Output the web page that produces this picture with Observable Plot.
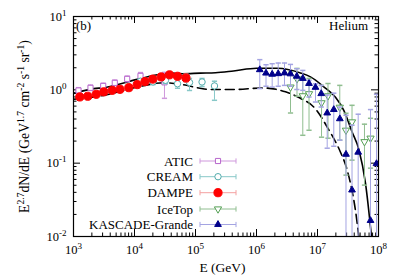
<!DOCTYPE html>
<html><head><meta charset="utf-8">
<script src="https://cdn.jsdelivr.net/npm/d3@7"></script>
<script src="https://cdn.jsdelivr.net/npm/@observablehq/plot@0.6"></script>
<style>body{margin:0;background:#fff}#chart{width:399px;height:279px}</style>
</head><body><div id="chart"></div>
<script>
// ---- tick values & labels
const xTicks = [1e3, 1e4, 1e5, 1e6, 1e7, 1e8];
const xTickLabels = ["10^{3}", "10^{4}", "10^{5}", "10^{6}", "10^{7}", "10^{8}"];
const yTicks = [1e-2, 1e-1, 1e0, 1e1];
const yTickLabels = ["10^{-2}", "10^{-1}", "10^{0}", "10^{1}"];
const xLabel = "E (GeV)";
const yLabel = "E^{2.7}dN/dE (GeV^{1.7} cm^{-2} s^{-1} sr^{-1})";
const panelTag = "(b)";
const elementName = "Helium";
const legendNames = ["ATIC", "CREAM", "DAMPE", "IceTop", "KASCADE-Grande"];

// ---- ATIC
const aticE  = [1208, 1900, 3070, 4750, 7590, 12540, 31000];
const aticF  = [0.98, 1.065, 1.13, 1.245, 1.41, 1.55, 1.265];
const aticLo = [0.90, 0.98, 1.04, 1.14, 1.29, 1.40, 0.766];
const aticHi = [1.07, 1.16, 1.23, 1.36, 1.54, 1.72, 1.73];
// ---- CREAM
const creamE  = [12540, 20100, 32200, 50700, 79800, 128000, 204700];
const creamF  = [1.31, 1.28, 1.35, 1.21, 1.26, 1.28, 1.13];
const creamLo = [1.22, 1.18, 1.22, 1.05, 0.98, 1.11, 0.72];
const creamHi = [1.41, 1.39, 1.49, 1.43, 1.43, 1.43, 1.31];
// ---- DAMPE
const dampeE  = [1268, 1714, 2355, 3141, 4305, 5781, 8070, 11070, 14860, 19950, 27400, 37500, 50700, 69800];
const dampeF  = [0.80, 0.817, 0.869, 0.94, 0.984, 1.016, 1.07, 1.178, 1.294, 1.40, 1.50, 1.60, 1.53, 1.45];
const dampeLo = [0.76, 0.775, 0.82, 0.89, 0.93, 0.955, 1.0, 1.10, 1.20, 1.29, 1.37, 1.45, 1.37, 1.28];
const dampeHi = [0.84, 0.86, 0.92, 0.99, 1.04, 1.08, 1.14, 1.26, 1.39, 1.52, 1.64, 1.77, 1.71, 1.64];
// ---- IceTop
const icetopE  = [3.61e6, 4.61e6, 5.74e6, 7.26e6, 1.164e7, 1.486e7, 2.32e7, 2.93e7, 3.68e7, 5.89e7, 7.40e7];
const icetopF  = [1.09, 1.41, 0.828, 0.883, 0.665, 0.828, 0.578, 0.281, 0.365, 0.196, 0.219];
const icetopLo = [0.483, 0.817, 0.240, 0.281, 0.226, 0.219, 0.206, 0.0687, 0.110, 0.0502, 0.0855];
const icetopHi = [1.75, 1.96, 1.48, 1.43, 1.15, 1.22, 1.15, 0.479, 0.615, 0.340, 0.409];
// ---- KASCADE-Grande
const kgE  = [1.132e6, 1.432e6, 1.807e6, 2.270e6, 2.877e6, 3.606e6, 4.581e6, 5.741e6, 7.261e6, 9.268e6, 1.151e7, 1.442e7, 1.849e7, 2.323e7, 2.931e7, 3.681e7, 4.645e7, 7.396e7, 9.268e7];
const kgF  = [1.88, 1.69, 1.63, 1.66, 1.70, 1.65, 1.53, 1.43, 1.22, 1.08, 0.887, 0.483, 0.538, 0.403, 0.132, 0.043, 0.141, 0.0165, 0.0984];
const kgLo = [1.04, 1.12, 1.09, 1.12, 1.15, 1.12, 1.01, 0.984, 0.798, 0.682, 0.583, 0.16, 0.17, 0.206, 0.001, 0.001, 0.001, 0.001, 0.001];
const kgHi = [2.58, 2.20, 2.27, 2.32, 2.32, 2.22, 1.94, 1.84, 1.35, 1.21, 1.15, 0.85, 0.90, 0.583, 0.45, 0.329, 0.465, 0.538, 0.869];
// ---- model curves
const solidE = [1000, 2153, 3141, 11070, 26670, 38900, 60530, 120800, 212800, 419800, 1.0e6, 2.208e6, 5.26e6, 7.674e6, 1.268e7, 1.972e7, 2.698e7, 3.707e7, 4.753e7, 6.124e7, 7.674e7];
const solidF = [0.895, 1.04, 1.07, 1.39, 1.63, 1.69, 1.66, 1.69, 1.71, 1.81, 1.97, 1.97, 1.70, 1.50, 1.10, 0.791, 0.526, 0.264, 0.155, 0.053, 0.0099];
const dashE = [1000, 3141, 11070, 30200, 60530, 113200, 176200, 419800, 1.253e6, 2.985e6, 5.07e6, 8.928e6, 1.514e7, 2.382e7, 3.069e7, 4.477e7, 4.753e7];
const dashF = [0.743, 0.841, 1.09, 1.25, 1.18, 1.06, 1.01, 1.01, 1.06, 0.94, 0.778, 0.569, 0.290, 0.141, 0.0803, 0.0151, 0.0099];

const rows = (E, F, lo, hi) => E.map((e, i) => ({E: e, F: F[i], lo: lo[i], hi: hi[i]}));
const line = (E, F) => E.map((e, i) => ({E: e, F: F[i]}));

const capSym = {draw(ctx, size) { const w = Math.sqrt(size / Math.PI); ctx.moveTo(-w, 0); ctx.lineTo(w, 0); }};
const triDown = {draw(ctx, size) {
  const y = -Math.sqrt(size / (3 * Math.sqrt(3))), s = Math.sqrt(3);
  ctx.moveTo(0, -2 * y); ctx.lineTo(-s * y, y); ctx.lineTo(s * y, y); ctx.closePath(); }};

const series = [
  {name: legendNames[0], data: rows(aticE, aticF, aticLo, aticHi), bar: "#cf98dc", col: "#b766cc", sym: "square", r: 2.9, filled: false},
  {name: legendNames[1], data: rows(creamE, creamF, creamLo, creamHi), bar: "#88c8c8", col: "#52acac", sym: "circle", r: 3.2, filled: false},
  {name: legendNames[2], data: rows(dampeE, dampeF, dampeLo, dampeHi), bar: "#f4a0a0", col: "#ff0000", sym: "circle", r: 4.1, filled: true},
  {name: legendNames[3], data: rows(icetopE, icetopF, icetopLo, icetopHi), bar: "#90be90", col: "#55a055", sym: triDown, r: 2.7, filled: false},
  {name: legendNames[4], data: rows(kgE, kgF, kgLo, kgHi), bar: "#a4a4e2", col: "#00008b", sym: "triangle", r: 2.5, filled: true}
];

const W = 399, H = 279, mt = 16, mr = 21, mb = 43, ml = 73;
const fw = W - ml - mr, fh = H - mt - mb;
const minorX = [], minorY = [];
for (let k = 3; k < 8; k++) for (let m = 2; m < 10; m++) minorX.push(m * 10 ** k);
for (let k = -2; k < 1; k++) for (let m = 2; m < 10; m++) minorY.push(+(m * 10 ** k).toPrecision(3));
const maj = 7, mnr = 3.5;

const marks = [
  Plot.tickX(xTicks, {x: d => d, insetTop: fh - maj, stroke: "black"}),
  Plot.tickX(xTicks, {x: d => d, insetBottom: fh - maj, stroke: "black"}),
  Plot.tickX(minorX, {x: d => d, insetTop: fh - mnr, stroke: "black"}),
  Plot.tickX(minorX, {x: d => d, insetBottom: fh - mnr, stroke: "black"}),
  Plot.tickY(yTicks, {y: d => d, insetRight: fw - maj, stroke: "black"}),
  Plot.tickY(yTicks, {y: d => d, insetLeft: fw - maj, stroke: "black"}),
  Plot.tickY(minorY, {y: d => d, insetRight: fw - mnr, stroke: "black"}),
  Plot.tickY(minorY, {y: d => d, insetLeft: fw - mnr, stroke: "black"}),
  Plot.axisX({ticks: xTicks, tickSize: 0, tickPadding: 9, label: null, fontSize: 12.5,
    tickFormat: d => xTickLabels[xTicks.indexOf(d)]}),
  Plot.axisY({ticks: yTicks, tickSize: 0, tickPadding: 7, label: null, fontSize: 12.5,
    tickFormat: d => yTickLabels[yTicks.indexOf(d)]}),
  Plot.line(line(solidE, solidF), {x: "E", y: "F", stroke: "black", strokeWidth: 1.6, curve: "monotone-x", clip: true}),
  Plot.line(line(dashE, dashF), {x: "E", y: "F", stroke: "black", strokeWidth: 1.6, strokeDasharray: "9,5", curve: "monotone-x", clip: true})
];
for (const s of series) {
  marks.push(
    Plot.ruleX(s.data, {x: "E", y1: "lo", y2: "hi", stroke: s.bar, strokeWidth: 1, clip: true}),
    Plot.dot(s.data, {x: "E", y: "lo", symbol: capSym, r: 2.6, fill: "none", stroke: s.bar, clip: true}),
    Plot.dot(s.data, {x: "E", y: "hi", symbol: capSym, r: 2.6, fill: "none", stroke: s.bar, clip: true}),
    Plot.dot(s.data, {x: "E", y: "F", symbol: s.sym, r: s.r, fill: s.filled ? s.col : "white", stroke: s.col, strokeWidth: 1, clip: true})
  );
}
marks.push(Plot.frame({stroke: "black", strokeWidth: 1.2}));

const svg = Plot.plot({
  width: W, height: H, marginTop: mt, marginRight: mr, marginBottom: mb, marginLeft: ml,
  x: {type: "log", domain: [1e3, 1e8]},
  y: {type: "log", domain: [1e-2, 1e1]},
  style: {fontFamily: "'Liberation Serif', 'Times New Roman', serif", fontSize: "12.5px", background: "white", color: "black"},
  marks
});
document.getElementById("chart").appendChild(svg);

const NS = "http://www.w3.org/2000/svg";
function rich(el, str, supSize, shift) {
  el.textContent = "";
  const parts = str.split(/(\^\{[^}]*\})/);
  let raised = false;
  for (const p of parts) {
    if (!p) continue;
    const t = document.createElementNS(NS, "tspan");
    if (p.startsWith("^{")) {
      t.textContent = p.slice(2, -1);
      t.setAttribute("font-size", supSize);
      if (!raised) t.setAttribute("dy", -shift);
      raised = true;
    } else {
      t.textContent = p;
      if (raised) { t.setAttribute("dy", shift); raised = false; }
    }
    el.appendChild(t);
  }
}
svg.querySelectorAll("text").forEach(t => { if (t.textContent.includes("^{")) rich(t, t.textContent, 9, 5); });

const g = d3.select(svg).append("g").attr("font-family", "'Liberation Serif', 'Times New Roman', serif");
// y label: fit its length to the reference span (about 173 px)
let ySize = 13;
const yl = g.append("text").attr("text-anchor", "middle").attr("fill", "black");
function drawYLabel(sz) {
  yl.attr("font-size", sz).attr("transform", `translate(29,126.5) rotate(-90)`);
  rich(yl.node(), yLabel, sz * 0.7, sz * 0.4);
}
drawYLabel(ySize);
const len = yl.node().getBBox().width;
if (len > 0) { ySize = Math.max(9, Math.min(14, ySize * 173 / len)); drawYLabel(ySize); }

g.append("text").attr("x", ml + fw / 2 - 3).attr("y", 272).attr("text-anchor", "middle").attr("font-size", 13.5).text(xLabel);
g.append("text").attr("x", 83.5).attr("y", 29.5).attr("font-size", 13).text(panelTag);
g.append("text").attr("x", 368).attr("y", 30).attr("text-anchor", "end").attr("font-size", 13).text(elementName);

// legend
const legRows = [161, 176.7, 192.7, 209, 224.5];
const d3sym = [d3.symbolSquare, d3.symbolCircle, d3.symbolCircle, triDown, d3.symbolTriangle];
series.forEach((s, i) => {
  const y = legRows[i];
  g.append("text").attr("x", 193).attr("y", y + 4.5).attr("text-anchor", "end").attr("font-size", 13).text(s.name);
  g.append("line").attr("x1", 200).attr("x2", 236).attr("y1", y).attr("y2", y).attr("stroke", s.bar);
  g.append("line").attr("x1", 200).attr("x2", 200).attr("y1", y - 2.6).attr("y2", y + 2.6).attr("stroke", s.bar);
  g.append("line").attr("x1", 236).attr("x2", 236).attr("y1", y - 2.6).attr("y2", y + 2.6).attr("stroke", s.bar);
  g.append("path").attr("transform", `translate(218,${y})`)
    .attr("d", d3.symbol(d3sym[i], Math.PI * s.r * s.r)())
    .attr("fill", s.filled ? s.col : "white").attr("stroke", s.col);
});
</script>
</body></html>
